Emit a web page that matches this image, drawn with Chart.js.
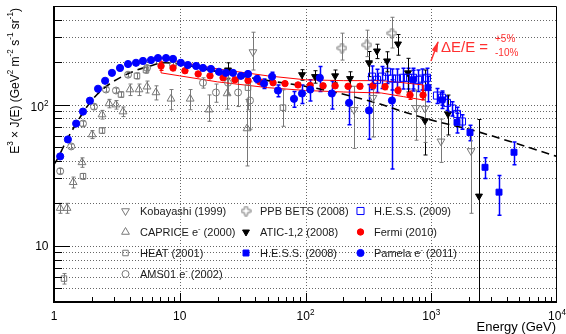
<!DOCTYPE html>
<html><head><meta charset="utf-8">
<script src="https://cdn.jsdelivr.net/npm/chart.js@4"></script>
<style>html,body{margin:0;padding:0;background:#fff}#wrap{position:relative;width:566px;height:334px}</style>
</head><body><div id="wrap"><canvas id="c" width="566" height="334"></canvas></div>
<script>
// ---------------- DATA ----------------
const pamelaE = [1.12,1.29,1.50,1.70,1.93,2.24,2.55,2.89,3.35,3.88,4.49,5.10,5.91,6.71,7.78,8.84,10.2,11.6,13.5,15.3,17.7,20.5,23.3,26.5,30.7,34.9,41.2,46.8,54.2,60.4,81.0,93.8,109,130,162,222,320,487];
const pamelaV = [43.0,56.7,73.5,89.3,106.7,129.6,147.6,168,182,194,198,204,207,214,214,211,198,191,188,182,179,171,168,168,160,165,152,141,158,126,110,120,128,155,120,103,91,107];
const pamelaErr = [0,0,0,0,0,0,0,0,0,0,0,0,0,0,0,0,0,0,0,0,4,4,4,4,5,5,9,11,12,12,14,18,22,31,27,31,[34,48],[72,43]];

const fermiE = [7.10,8.84,11.0,14.0,17.4,22.1,27.5,34.9,43.5,55.2,68.7,87.2,109,138,172,218,271,344,429,544,678,860];
const fermiV = [188,182,174,165,160,155,150,148,145,143,141,138,137,136,136,135,135,136,134,126,117,117];
const fermiErr = [13,8,6,5,4,4,4,4,4,4,4,4,4,4,4,5,5,5,6,7,8,9];
const fermiBandE  = [7.1,10,20,50,100,200,400,600,860];
const fermiBandHi = [214,201,179,160,150,148,148,143,138];
const fermiBandLo = [168,160,145,132,126,123,121,114,108];

const hess09E = [338,370,406,445,487,534,596,653,716,785,844,925,1111,1217,1334,1462,1602,1756];
const hess09V = [158,150,158,171,153,153,155,155,155,150,153,155,116,112,103,94,86,76];
const hess09Err = [30,28,28,30,26,26,26,26,26,26,26,26,14,13,12,11,10,9];

const hess08E = [716,942,1217,1602,2033,2676,3458,4551];
const hess08V = [150,132,108,75,63.5,36,24,46];
const hess08Err = [25,27,14,12,8,6,7.5,8.5];

const aticE = [24.2,93.8,119,172,226,320,370,445,544,653,892,1359,2397];
const aticV = [176,163,158,160,153,198,240,204,269,168,77,86,22.5];
const aticErr = [22,14,16,16,18,40,28,33,45,45,[33,99],[25,31],[30,56]];

const ppbE = [195,308,487];
const ppbV = [252,265,321];
const ppbErr = [[45,69],[46,72],[69,95]];

const kobE = [38.2,243,344,756,892,1195,2071];
const kobV = [236,92,112,95,94,55,47];
const kobErr = [[60,90],43,[53,38],[39,32],[40,35],[16,24],[30,20]];

const capE = [1.12,1.27,1.42,1.67,2.01,2.41,2.74,3.11,3.54,4.02,4.74,5.49,6.47,8.52,12.1,17.1,23.8,34.3];
const capV = [18.5,18.5,28.2,39.0,61.5,85.1,102,100,89.3,128,128,134,122,110,110,92.2,120,67.8];
const capErr = [1.5,1.5,2.5,3,4,6,7,7,7,12,12,13,14,18,18,[16,25],[27,31],[31,41]];

const heatE = [1.20,1.70,2.41,3.41,4.57,5.39,34.9,66.2];
const heatV = [5.86,31.1,65.6,118,160,176,132,95.3];
const heatErr = [0.5,1.5,3,5,8,9,40,[25,32]];

const amsE = [1.12,1.37,1.70,2.08,2.59,3.11,3.88,5.49,8.84,15.3,19.4,24.2,29.1,36.2];
const amsV = [33.8,50.6,73.5,96.8,128,126,163,182,191,143,122,143,122,107];
const amsErr = [1.5,2,3,4,5,5,6,7,8,12,18,25,[25,30],[40,38]];

const modelE = [1.0,1.06,1.27,1.52,1.83,2.20,2.79,4.02,5.80,7.63,10.1,18.4,45.9,115,239,391,596,1111,2033,4467,10000];
const modelV = [37.8,41.0,56.7,74.7,96.8,118,141,168,188,198,194,174,150,132,114,101,89.3,75.9,66.7,54.0,43.0];

const xTickVals = [1,10,100,1000,10000];
const xTickLabels = ['1','10','10^{2}','10^{3}','10^{4}'];
const yTickVals = [10,100];
const yTickLabels = ['10','10^{2}'];
const legendLabels = ['Kobayashi (1999)','CAPRICE e^{-} (2000)','HEAT (2001)','AMS01 e^{-} (2002)','PPB BETS (2008)','ATIC-1,2 (2008)','H.E.S.S. (2008)','H.E.S.S. (2009)','Fermi (2010)','Pamela e^{-} (2011)'];
const xTitle = 'Energy (GeV)';
const yTitle = 'E^{3} \u00d7 J(E) (GeV^{2} m^{-2} s^{-1} sr^{-1})';

// ---------------- STYLE ----------------
const FAM = '"Liberation Sans", Arial, Helvetica, sans-serif';
const GRAY = '#787878', BLUE = '#0000ff', RED = '#ff0000';

function makeCross(color){
  const c = document.createElement('canvas'); c.width = 11; c.height = 11;
  const g = c.getContext('2d'); g.strokeStyle = color; g.lineWidth = 1;
  const m = 5.5, a = 1.5, e = 4.5;
  g.beginPath();
  g.moveTo(m-a,m-e); g.lineTo(m+a,m-e); g.lineTo(m+a,m-a); g.lineTo(m+e,m-a); g.lineTo(m+e,m+a);
  g.lineTo(m+a,m+a); g.lineTo(m+a,m+e); g.lineTo(m-a,m+e); g.lineTo(m-a,m+a); g.lineTo(m-e,m+a);
  g.lineTo(m-e,m-a); g.lineTo(m-a,m-a); g.closePath(); g.stroke();
  return c;
}
const crossImg = makeCross(GRAY);

const series = [
  {E:hess08E, V:hess08V, err:hess08Err, li:6, style:'rect', r:4.2, color:BLUE, fill:true, ew:1.5},
  {E:hess09E, V:hess09V, err:hess09Err, li:7, style:'rect', r:5, color:BLUE, fill:false, ew:1.5},
  {E:pamelaE, V:pamelaV, err:pamelaErr, li:9, style:'circle', r:3.6, color:BLUE, fill:true, ew:1.5},
  {E:fermiE, V:fermiV, err:fermiErr, li:8, style:'circle', r:3.2, color:RED, fill:true, ew:1.2},
  {E:aticE, V:aticV, err:aticErr, li:5, style:'triangle', rot:180, r:4, color:'#000000', fill:true, ew:1},
  {E:ppbE, V:ppbV, err:ppbErr, li:4, style:'cross', r:4.5, color:GRAY, fill:false, ew:1},
  {E:kobE, V:kobV, err:kobErr, li:0, style:'triangle', rot:180, r:4.5, color:GRAY, fill:false, ew:1},
  {E:capE, V:capV, err:capErr, li:1, style:'triangle', rot:0, r:4.5, color:GRAY, fill:false, ew:1},
  {E:heatE, V:heatV, err:heatErr, li:2, style:'rect', r:3.9, color:GRAY, fill:false, ew:1},
  {E:amsE, V:amsV, err:amsErr, li:3, style:'circle', r:3.5, color:GRAY, fill:false, ew:1}
];

const pts = (E, V) => E.map((e, i) => ({x: e, y: V[i]}));

const datasets = series.map((s, i) => ({
  data: pts(s.E, s.V),
  showLine: false,
  pointStyle: s.style === 'cross' ? crossImg : s.style,
  pointRotation: s.rot || 0,
  pointRadius: s.r,
  pointBorderWidth: 1,
  pointBorderColor: s.color,
  pointBackgroundColor: s.fill ? s.color : 'rgba(0,0,0,0)',
  order: i + 1
}));
// Fermi systematic band outline
const bandPts = pts(fermiBandE, fermiBandHi).concat(pts(fermiBandE.slice().reverse(), fermiBandLo.slice().reverse()));
bandPts.push(bandPts[0]);
datasets.push({data: bandPts, showLine: true, borderColor: RED, borderWidth: 1, pointRadius: 0, fill: false, tension: 0, order: 20});
datasets.push({data: pts(modelE, modelV), showLine: true, borderColor: '#000', borderWidth: 1.6, borderDash: [8,5], pointRadius: 0, fill: false, cubicInterpolationMode: 'monotone', order: 30});

// ---------------- helpers ----------------
function parseRich(s){
  const out = []; const re = /\^\{([^}]*)\}/g; let last = 0, m;
  while ((m = re.exec(s))) { if (m.index > last) out.push({t: s.slice(last, m.index), sup: false}); out.push({t: m[1], sup: true}); last = re.lastIndex; }
  if (last < s.length) out.push({t: s.slice(last), sup: false});
  return out;
}
function drawRich(ctx, s, x, y, size, align, color){
  const parts = parseRich(s);
  const f = sup => (sup ? size * 0.68 : size) + 'px ' + FAM;
  let w = 0; parts.forEach(p => { ctx.font = f(p.sup); p.w = ctx.measureText(p.t).width; w += p.w; });
  let cx = align === 'right' ? x - w : align === 'center' ? x - w / 2 : x;
  ctx.fillStyle = color; ctx.textBaseline = 'alphabetic'; ctx.textAlign = 'left';
  parts.forEach(p => { ctx.font = f(p.sup); ctx.fillText(p.t, cx, p.sup ? y - size * 0.42 : y); cx += p.w; });
  return w;
}
function drawMarker(ctx, s, x, y){
  ctx.save(); ctx.lineWidth = 1; ctx.strokeStyle = s.color; ctx.fillStyle = s.color;
  if (s.style === 'cross') { ctx.drawImage(crossImg, x - 5.5, y - 5.5); ctx.restore(); return; }
  const r = s.r; ctx.beginPath();
  if (s.style === 'circle') ctx.arc(x, y, r, 0, 2 * Math.PI);
  else if (s.style === 'rect') { const h = r * Math.SQRT1_2; ctx.rect(x - h, y - h, 2 * h, 2 * h); }
  else { let rad = (s.rot || 0) * Math.PI / 180; for (let k = 0; k < 3; k++) { const px = x + Math.sin(rad) * r, py = y - Math.cos(rad) * r; k ? ctx.lineTo(px, py) : ctx.moveTo(px, py); rad += 2 * Math.PI / 3; } ctx.closePath(); }
  if (s.fill) ctx.fill(); ctx.stroke(); ctx.restore();
}
function logTicks(min, max){
  const out = [];
  for (let d = 1; d <= 10000; d *= 10) for (let m = 1; m <= 9; m++) { const v = m * d; if (v > min * 1.0001 && v < max * 0.9999) out.push({v, major: m === 1}); }
  return out;
}

const rootPlugin = {
  id: 'rootstyle',
  beforeDatasetsDraw(chart){
    const {ctx, chartArea: a, scales: {x, y}} = chart;
    ctx.save();
    ctx.strokeStyle = '#666'; ctx.lineWidth = 1; ctx.setLineDash([1, 2]);
    logTicks(y.min, y.max).forEach(t => { const py = Math.round(y.getPixelForValue(t.v)) + 0.5; ctx.beginPath(); ctx.moveTo(a.left, py); ctx.lineTo(a.right, py); ctx.stroke(); });
    logTicks(x.min, x.max).filter(t => t.major).forEach(t => { const px = Math.round(x.getPixelForValue(t.v)) + 0.5; ctx.beginPath(); ctx.moveTo(px, a.top); ctx.lineTo(px, a.bottom); ctx.stroke(); });
    ctx.setLineDash([]);
    ctx.beginPath(); ctx.rect(a.left, a.top, a.right - a.left, a.bottom - a.top); ctx.clip();
    series.forEach(s => {
      ctx.strokeStyle = s.color; ctx.lineWidth = s.ew;
      s.E.forEach((e, i) => {
        const er = s.err[i]; if (!er) return;
        const mi = Array.isArray(er) ? er[0] : er, pl = Array.isArray(er) ? er[1] : er;
        const v = s.V[i];
        const px = Math.round(x.getPixelForValue(e)) + 0.5;
        const yl = v - mi > y.min ? y.getPixelForValue(v - mi) : a.bottom + 2;
        const yh = y.getPixelForValue(v + pl);
        ctx.beginPath(); ctx.moveTo(px, yl); ctx.lineTo(px, yh);
        ctx.moveTo(px - 2, yl); ctx.lineTo(px + 2, yl); ctx.moveTo(px - 2, yh); ctx.lineTo(px + 2, yh);
        ctx.stroke();
      });
    });
    ctx.restore();
  },
  afterDatasetsDraw(chart){
    const {ctx, chartArea: a, scales: {x, y}} = chart;
    ctx.save();
    // frame
    ctx.strokeStyle = '#000';
    ctx.lineWidth = 1; ctx.beginPath(); ctx.moveTo(a.left, a.top + 0.5); ctx.lineTo(a.right - 0.5, a.top + 0.5); ctx.lineTo(a.right - 0.5, a.bottom); ctx.stroke();
    ctx.lineWidth = 2; ctx.beginPath(); ctx.moveTo(a.left, a.top); ctx.lineTo(a.left, a.bottom); ctx.lineTo(a.right, a.bottom); ctx.stroke();
    // ticks
    ctx.lineWidth = 1;
    logTicks(x.min, x.max).forEach(t => { const px = Math.round(x.getPixelForValue(t.v)) + 0.5; ctx.beginPath(); ctx.moveTo(px, a.bottom); ctx.lineTo(px, a.bottom - (t.major ? 9 : 5)); ctx.stroke(); });
    logTicks(y.min, y.max).forEach(t => { const py = Math.round(y.getPixelForValue(t.v)) + 0.5; ctx.beginPath(); ctx.moveTo(a.left, py); ctx.lineTo(a.left + (t.major ? 16 : 8), py); ctx.stroke(); });
    // tick labels
    xTickVals.forEach((v, i) => drawRich(ctx, xTickLabels[i], x.getPixelForValue(v), 320, 12, 'center', '#000'));
    yTickVals.forEach((v, i) => drawRich(ctx, yTickLabels[i], 48.5, y.getPixelForValue(v) + (yTickLabels[i].includes('^') ? 6 : 4.5), 12, 'right', '#000'));
    // titles
    drawRich(ctx, xTitle, 556, 331, 13, 'right', '#000');
    ctx.save(); ctx.translate(18.5, 8); ctx.rotate(-Math.PI / 2);
    drawRich(ctx, yTitle, 0, 0, 12, 'right', '#000');
    ctx.restore();
    // legend
    const colM = [125.5, 246, 360.5], colT = [140, 260, 374], rowY = [211, 232, 253, 274];
    series.forEach(s => {
      const li = s.li, col = li < 4 ? 0 : li < 7 ? 1 : 2, row = li < 4 ? li : li < 7 ? li - 4 : li - 7;
      drawMarker(ctx, s, colM[col], rowY[row]);
      drawRich(ctx, legendLabels[li], colT[col], rowY[row] + 4, 11, 'left', '#1a1a1a');
    });
    // annotation (energy-scale uncertainty)
    const ANN = '#ff3030';
    const x0 = x.getPixelForValue(995), y0 = y.getPixelForValue(204);
    const x1 = x.getPixelForValue(1132), y1 = y.getPixelForValue(278);
    ctx.strokeStyle = ANN; ctx.fillStyle = ANN; ctx.lineWidth = 1.5;
    ctx.beginPath(); ctx.moveTo(x0, y0); ctx.lineTo(x1, y1); ctx.stroke();
    const ang = Math.atan2(y1 - y0, x1 - x0), L = 10, W = 3;
    ctx.beginPath(); ctx.moveTo(x1 + Math.cos(ang) * 1, y1 + Math.sin(ang) * 1);
    ctx.lineTo(x1 - Math.cos(ang) * L + Math.sin(ang) * W, y1 - Math.sin(ang) * L - Math.cos(ang) * W);
    ctx.lineTo(x1 - Math.cos(ang) * L - Math.sin(ang) * W, y1 - Math.sin(ang) * L + Math.cos(ang) * W);
    ctx.closePath(); ctx.fill();
    ctx.textAlign = 'left'; ctx.textBaseline = 'middle';
    ctx.font = '15px ' + FAM; ctx.fillText('\u0394E/E =', x.getPixelForValue(1195), y.getPixelForValue(252));
    ctx.font = '10px ' + FAM;
    ctx.fillText('+5%', x.getPixelForValue(3214), y.getPixelForValue(290));
    ctx.fillText('-10%', x.getPixelForValue(3214), y.getPixelForValue(231));
    ctx.restore();
  }
};

new Chart(document.getElementById('c'), {
  type: 'scatter',
  data: {datasets},
  options: {
    responsive: false, animation: false, devicePixelRatio: 1, events: [],
    layout: {padding: {left: 54, right: 9, top: 6, bottom: 32}},
    plugins: {legend: {display: false}, tooltip: {enabled: false}},
    scales: {
      x: {type: 'logarithmic', min: 1, max: 10000, display: false},
      y: {type: 'logarithmic', min: 4, max: 500, display: false}
    }
  },
  plugins: [rootPlugin]
});
</script></body></html>
